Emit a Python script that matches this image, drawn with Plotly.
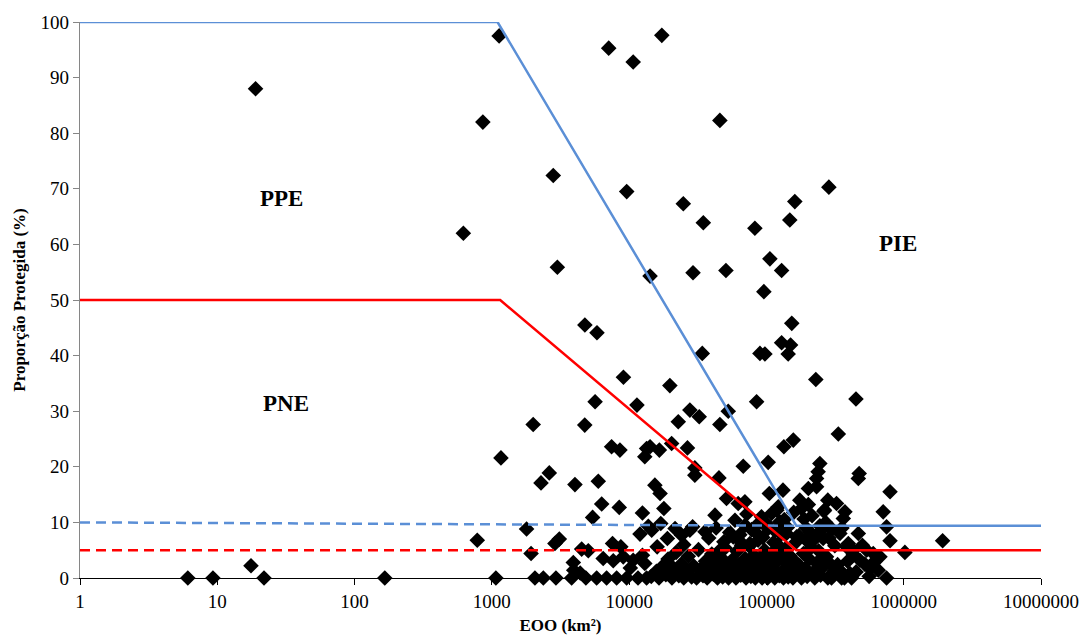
import numpy as np
import plotly.graph_objects as go

# Species records: extent of occurrence (km²) and protected proportion (%)
eoo = [
    # small ranges
    6.1, 9.3, 17.6, 21.9, 166, 1070, 783, 620, 860, 1130, 19,
    # upper scatter
    7100, 10700, 17300, 2800, 9600, 3000, 14200, 45800, 24800, 34700,
    82400, 161000, 148000, 106000, 29200, 50700, 129000, 95800, 285000,
    # middle band
    4760, 5830, 153000, 129000, 150000, 144000, 89700, 97500, 34100, 229000,
    9090, 19800, 5650, 11400, 84800, 27700, 32400, 52700, 2000, 4750,
    22800, 45800, 449000, 157000, 134000, 334000,
    7450, 8570, 13400, 13000, 1165, 14200, 16600, 20400, 26600,
    2620, 2280, 4030, 5960, 103000, 67800, 30100, 30100, 45100,
    474000, 467000, 245000, 238000, 232000,
    15400, 16800, 17900, 51200, 62300, 69700, 105000, 119000,
    132000, 175000, 202000, 232000, 795000, 280000, 265000,
    6310, 8470, 12500, 5420, 42200, 324000, 373000, 363000, 709000,
    # around the 10 % level
    1790, 3100, 2880, 12000, 7570, 14600, 21600, 24100, 27700, 35700,
    100000, 109000, 125000, 140000, 166000, 207000, 252000, 259000,
    467000, 343000, 750000, 795000, 1920000,
    57300, 65900, 75800, 84800, 13800, 17000, 70000, 92000, 115000,
    135000, 180000, 195000, 215000, 270000, 300000, 195000, 230000,
    38000, 43000, 49000, 54000, 59000, 64000, 72000, 78000, 86000, 94000,
    103000, 113000, 122000, 128000, 142000, 158000, 172000, 188000, 202000, 222000,
    245000, 262000, 285000, 315000, 355000, 395000, 430000, 500000,
    25000, 29000, 19000, 16000, 12500, 10200, 8700,
    # near 5 %
    1930, 4510, 5040, 45800, 1020000, 384000, 429000, 537000, 600000, 671000,
    6470, 7660, 9060, 10700, 3920, 13000,
    # low values
    274000, 290000, 343000, 406000, 480000, 567000, 653000,
    2060, 2370, 2930, 3810, 4840, 5800, 6850, 8110, 9590, 11600, 13400,
    3950, 4400, 750000, 298000, 353000, 417000,
    14500, 15800, 16500, 17500, 18500, 19200, 20500, 21000, 22000, 23000,
    24000, 25000, 26000, 27000, 28500, 29500, 31000, 32000, 33000, 34500,
    36000, 37000, 38500, 40000, 41000, 42500, 44000, 45000, 47000, 48000,
    50000, 51000, 53000, 55000, 56000, 58000, 60000, 61000, 63000, 65000,
    66000, 68000, 70000, 71000, 73000, 75000, 77000, 79000, 81000, 83000,
    85000, 87000, 89000, 91000, 93000, 95000, 97000, 99000, 102000, 104000,
    107000, 110000, 112000, 115000, 118000, 121000, 124000, 127000, 130000, 133000,
    137000, 140000, 144000, 148000, 152000, 156000, 160000, 165000, 170000, 175000,
    180000, 186000, 192000, 198000, 205000, 212000, 218000, 225000, 232000, 240000,
    248000, 256000, 265000, 280000, 310000, 330000, 370000, 390000, 450000, 520000,
    560000, 620000,
]

prop = [
    0, 0, 2.2, 0, 0, 0, 6.8, 62, 82, 97.5, 88,
    95.3, 92.8, 97.6, 72.4, 69.5, 55.9, 54.3, 82.3, 67.3, 63.9,
    62.9, 67.7, 64.4, 57.4, 54.9, 55.3, 55.3, 51.5, 70.3,
    45.5, 44.1, 45.8, 42.3, 41.9, 40.3, 40.4, 40.3, 40.4, 35.7,
    36.1, 34.6, 31.7, 31.1, 31.7, 30.2, 29.0, 30.0, 27.6, 27.5,
    28.1, 27.6, 32.2, 24.8, 23.6, 25.9,
    23.6, 23.0, 23.3, 21.8, 21.6, 23.6, 23.0, 24.2, 23.4,
    18.9, 17.1, 16.8, 17.4, 20.8, 20.1, 19.8, 18.5, 18.0,
    18.8, 17.9, 20.6, 19.1, 17.9,
    16.7, 15.2, 12.5, 14.3, 13.4, 13.7, 15.2, 12.2,
    15.8, 14.0, 16.1, 16.4, 15.5, 14.0, 12.2,
    13.3, 12.7, 11.7, 10.9, 11.3, 13.4, 11.9, 10.7, 11.9,
    8.8, 7.0, 6.2, 7.9, 6.2, 8.6, 8.9, 7.7, 8.6, 8.3,
    9.8, 11.6, 10.1, 8.0, 7.4, 8.3, 8.6, 7.1,
    8.0, 8.0, 9.2, 6.7, 6.7,
    7.4, 5.9, 6.2, 8.0, 9.3, 9.8, 9.5, 11.0, 8.5,
    10.5, 12.5, 9.0, 11.2, 10.0, 8.8, 6.8, 7.5,
    7.2, 9.0, 6.5, 8.2, 10.4, 7.8, 11.5, 8.7, 9.6, 7.3,
    8.9, 6.4, 12.8, 7.9, 9.1, 11.8, 7.6, 10.6, 13.2, 6.9,
    9.4, 12.0, 7.2, 5.8, 9.0, 6.2, 4.2, 5.9,
    6.0, 9.2, 7.1, 5.6, 4.1, 1.8, 5.6,
    4.4, 5.2, 4.9, 5.0, 4.6, 5.6, 5.0, 5.0, 4.4, 3.8,
    3.5, 3.1, 3.8, 3.2, 2.8, 2.6,
    3.8, 2.6, 1.4, 0.8, 3.2, 1.7, 1.4,
    0, 0, 0, 0, 0, 0, 0, 0, 0, 0, 0,
    1.4, 0.9, 0, 0, 0, 0,
    0.3, 1.2, 0, 2.1, 0.6, 3.4, 0, 1.8, 4.6, 0.4,
    2.5, 0, 1.1, 3.9, 0.2, 2.2, 0, 5.1, 1.5, 0.4,
    3.0, 0, 1.9, 4.3, 0.7, 2.6, 0, 1.3, 3.6, 0.2,
    5.4, 2.0, 0, 0.9, 3.2, 1.7, 0, 4.8, 2.4, 0.5,
    6.3, 1.0, 3.5, 0, 2.8, 5.7, 0.3, 1.6, 4.1, 0,
    2.3, 6.8, 0.8, 3.7, 0, 1.4, 5.0, 2.1, 0, 3.3,
    0.6, 4.5, 1.8, 0, 2.9, 6.0, 0.4, 3.8, 1.2, 0,
    5.2, 2.6, 0.2, 4.0, 1.5, 0, 3.1, 6.5, 0.9, 2.2,
    0, 4.4, 1.7, 0.3, 3.4, 5.5, 1.0, 0, 2.7, 4.9,
    0.5, 1.9, 3.6, 0, 1.2, 2.4, 0, 3.0, 1.1, 2.5,
    0.3, 3.1,
]

# Threshold lines (EOO, %)
upper_x = [1, 1100, 165000, 10000000]
upper_y = [100, 100, 9.4, 9.4]
lower_x = [1, 1150, 165000, 10000000]
lower_y = [50, 50, 5, 5]
upper_dash_x = [1, 165000]
upper_dash_y = [10, 9.4]
lower_dash_x = [1, 165000]
lower_dash_y = [5, 5]

x_ticks = [1, 10, 100, 1000, 10000, 100000, 1000000, 10000000]
x_tick_text = ["1", "10", "100", "1000", "10000", "100000", "1000000", "10000000"]
y_ticks = [0, 10, 20, 30, 40, 50, 60, 70, 80, 90, 100]

region_labels = ["PPE", "PNE", "PIE"]
region_x = [29.6, 31.6, 910000]
region_y = [68.2, 31.3, 60.1]

BLUE = "#5b8fd6"
RED = "#ff0000"
SERIF = "Liberation Serif"

fig = go.Figure()

fig.add_trace(go.Scatter(
    x=eoo, y=prop, mode="markers",
    marker=dict(symbol="diamond", size=12, color="black", line=dict(width=0)),
    cliponaxis=False, showlegend=False, hoverinfo="x+y",
))

for xs, ys, col, dash in [
    (upper_x, upper_y, BLUE, "solid"),
    (lower_x, lower_y, RED, "solid"),
    (upper_dash_x, upper_dash_y, BLUE, "10px,6px"),
    (lower_dash_x, lower_dash_y, RED, "10px,6px"),
]:
    fig.add_trace(go.Scatter(
        x=xs, y=ys, mode="lines",
        line=dict(color=col, width=2.5, dash=dash),
        showlegend=False, hoverinfo="skip",
    ))

for txt, xv, yv in zip(region_labels, region_x, region_y):
    fig.add_annotation(
        x=np.log10(xv), y=yv, xref="x", yref="y", text=f"<b>{txt}</b>",
        showarrow=False, font=dict(family=SERIF, size=23, color="black"),
    )

fig.update_layout(
    width=1085, height=639,
    margin=dict(l=80, r=44, t=22, b=61),
    paper_bgcolor="white", plot_bgcolor="white",
    font=dict(family=SERIF, color="black"),
    xaxis=dict(
        type="log", range=[0, 7], automargin=False,
        tickmode="array", tickvals=x_ticks, ticktext=x_tick_text,
        ticks="outside", ticklen=6, tickcolor="black",
        showline=True, linecolor="black", linewidth=1.3,
        showgrid=False, zeroline=False, layer="below traces",
        tickfont=dict(family=SERIF, size=19, color="black"),
        title=dict(text="<b>EOO (km²)</b>", font=dict(family=SERIF, size=17), standoff=8),
    ),
    yaxis=dict(
        range=[0, 100], automargin=False,
        tickmode="array", tickvals=y_ticks,
        ticks="outside", ticklen=6, tickcolor="#868686",
        showline=True, linecolor="#868686", linewidth=1.3,
        showgrid=False, zeroline=False, layer="below traces",
        tickfont=dict(family=SERIF, size=19, color="black"),
        title=dict(text="<b>Proporção Protegida (%)</b>", font=dict(family=SERIF, size=17), standoff=10),
    ),
)

fig.write_html("out.html")
